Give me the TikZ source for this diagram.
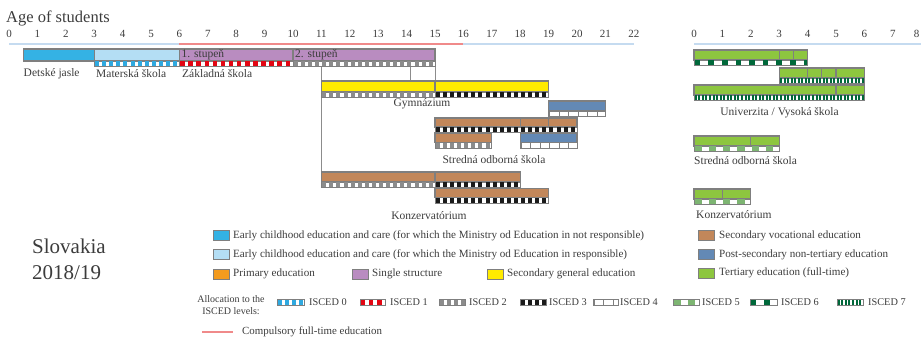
\documentclass[tikz,border=0pt]{standalone}
\usepackage{fontspec}
\setmainfont{Liberation Serif}
\definecolor{txt}{HTML}{3C3C3C}
\definecolor{bd}{HTML}{7F7F7F}
\definecolor{ln}{HTML}{8C8C8C}
\definecolor{axblue}{HTML}{C5DBF0}
\definecolor{comp}{HTML}{F08A8A}
\definecolor{ecnot}{HTML}{34B2E4}
\definecolor{ecres}{HTML}{B4DEF4}
\definecolor{prim}{HTML}{F39B1E}
\definecolor{single}{HTML}{B98CC0}
\definecolor{secgen}{HTML}{FFEB00}
\definecolor{secvoc}{HTML}{C2875A}
\definecolor{postsec}{HTML}{6389B5}
\definecolor{tert}{HTML}{8DC63F}
\definecolor{isA}{HTML}{2FA9E0}
\definecolor{isB}{HTML}{E30613}
\definecolor{isC}{HTML}{8C8C8C}
\definecolor{isD}{HTML}{1A1A1A}
\definecolor{isF}{HTML}{7DB572}
\definecolor{isG}{HTML}{00683A}
% bar: x1 x2 ytop ybottom colour
\newcommand\ebar[5]{\filldraw[fill=#5,draw=bd,line width=1.2] (#1,#3) rectangle (#2,#4);}
% strip: x1 x2 ytop colour period block height
\newcommand\istrip[7]{%
  \begin{scope}
    \clip (#1,#3) rectangle (#2,#3+#7);
    \pgfmathtruncatemacro\nblk{(#2-#1)/#5+1}
    \foreach \k in {0,...,\nblk}{
      \fill[#4] ({#1+\k*#5+0.8},#3) rectangle ++(#6,#7);
    }
  \end{scope}
  \draw[bd,line width=1] (#1,#3) rectangle (#2,#3+#7);
}
\newcommand\isZ[3]{\istrip{#1}{#2}{#3}{isA}{7.1}{4}{6}}
\newcommand\isI[3]{\istrip{#1}{#2}{#3}{isB}{8.1}{4.5}{6}}
\newcommand\isII[3]{\istrip{#1}{#2}{#3}{isC}{7.1}{4}{6}}
\newcommand\isIII[3]{\istrip{#1}{#2}{#3}{isD}{7.1}{4}{6}}
\newcommand\isIV[3]{\istrip{#1}{#2}{#3}{bd}{9.47}{1}{6}}
\newcommand\isV[3]{\istrip{#1}{#2}{#3}{isF}{14.2}{7.1}{6}}
\newcommand\isVI[3]{\istrip{#1}{#2}{#3}{isG}{13.6}{5.5}{6}}
\newcommand\isVII[3]{\istrip{#1}{#2}{#3}{isG}{3.55}{2}{6}}
\begin{document}
\begin{tikzpicture}[x=1pt,y=-1pt,
  every node/.style={text=txt,inner sep=0pt},
  tick/.style={font=\fontsize{11}{12}\selectfont},
  lbl/.style={font=\fontsize{11.5}{13}\selectfont},
  leg/.style={font=\fontsize{11.1}{12}\selectfont,anchor=west},
  sml/.style={font=\fontsize{10.3}{11}\selectfont,anchor=west},
  sq/.style={draw=bd,line width=1}]
\useasboundingbox (0,0) rectangle (921,339);
% title
\node[anchor=west,font=\fontsize{16.5}{18}\selectfont] (title) at (6,18) {Age of students};
% left axis
\foreach \a in {0,...,22} \node[tick] (tl\a) at ({9+28.4*\a},34) {\a};
\draw[axblue,line width=2.6] (9,44) -- (633.8,44);
\draw[comp,line width=2.6] (179.4,44) -- (463.4,44);
% right axis
\foreach \a in {0,...,7} \node[tick] (tr\a) at ({694+28.4*\a},34) {\a};
\node[tick] (tr8) at (916.5,34) {8};
\draw[axblue,line width=2.6] (694,44) -- (921,44);
% connectors
\draw[ln,line width=0.9] (321.4,67) -- (321.4,172);
\draw[ln,line width=0.9] (410,67) -- (410,81);
\draw[ln,line width=0.9] (435,67) -- (435,81);
% row 1
\ebar{23.2}{94.2}{49}{61}{ecnot}
\ebar{94.2}{179.4}{49}{61}{ecres}
\ebar{179.4}{293}{49}{61}{single}
\ebar{293}{435}{49}{61}{single}
\isZ{94.2}{179.4}{61}
\isI{179.4}{293}{61}
\isII{293}{435}{61}
\node[anchor=west,font=\fontsize{11.5}{13}\selectfont] (st1) at (181.5,54.5) {1. stupeň};
\node[anchor=west,font=\fontsize{11.5}{13}\selectfont] (st2) at (295,54.5) {2. stupeň};
\node[lbl,anchor=west] (dj) at (23.5,73.5) {Detské jasle};
\node[lbl,anchor=west] (ms) at (96,73.5) {Materská škola};
\node[lbl,anchor=west] (zs) at (182,73.5) {Základná škola};
% Gymnazium
\ebar{321.4}{435}{81}{92}{secgen}
\ebar{435}{548.6}{81}{92}{secgen}
\isII{321.4}{435}{92}
\isIII{435}{548.6}{92}
\node[lbl] (gym) at (422,104) {Gymnázium};
% post-secondary
\ebar{548.6}{605.4}{101}{111}{postsec}
\isIV{548.6}{605.4}{111}
% vocational
\ebar{435}{520.2}{118}{127}{secvoc}
\ebar{520.2}{548.6}{118}{127}{secvoc}
\ebar{548.6}{577}{118}{127}{secvoc}
\isIII{435}{577}{127}
\ebar{435}{491.8}{133}{142.5}{secvoc}
\isII{435}{491.8}{142.5}
\ebar{520.2}{577}{133}{142.5}{postsec}
\isIV{520.2}{577}{142.5}
\node[lbl] (sos) at (494,160) {Stredná odborná škola};
% Konzervatorium
\ebar{321.4}{435}{172}{182}{secvoc}
\ebar{435}{520.2}{172}{182}{secvoc}
\isII{321.4}{435}{182}
\isIII{435}{520.2}{182}
\ebar{435}{548.6}{188.5}{197.5}{secvoc}
\isIII{435}{548.6}{197.5}
\node[lbl] (konz) at (429,216) {Konzervatórium};
% right section
\ebar{694}{779.2}{50}{60}{tert}
\ebar{779.2}{793.4}{50}{60}{tert}
\ebar{793.4}{807.6}{50}{60}{tert}
\isVI{694}{807.6}{60}
\ebar{779.2}{807.6}{68}{78}{tert}
\ebar{807.6}{821.8}{68}{78}{tert}
\ebar{821.8}{836}{68}{78}{tert}
\ebar{836}{864.4}{68}{78}{tert}
\isVII{779.2}{864.4}{78}
\ebar{694}{836}{85}{95}{tert}
\ebar{836}{864.4}{85}{95}{tert}
\isVII{694}{864.4}{95}
\node[lbl] (univ) at (779.5,113) {Univerzita / Vysoká škola};
\ebar{694}{750.8}{136}{146}{tert}
\ebar{750.8}{779.2}{136}{146}{tert}
\isV{694}{779.2}{146}
\node[lbl,anchor=west] (sos2) at (694,160.5) {Stredná odborná škola};
\ebar{694}{722.4}{189}{199}{tert}
\ebar{722.4}{750.8}{189}{199}{tert}
\isV{694}{750.8}{199}
\node[lbl,anchor=west] (konz2) at (696,215) {Konzervatórium};
% country
\node[anchor=west,font=\fontsize{21}{24}\selectfont] (country) at (32,246) {Slovakia};
\node[anchor=west,font=\fontsize{21}{24}\selectfont] (year) at (32,273) {2018/19};
% legend colours
\filldraw[fill=ecnot,sq] (213,230.5) rectangle (229,240.5);
\node[leg] (l1) at (233,235.5) {Early childhood education and care (for which the Ministry od Education in not responsible)};
\filldraw[fill=ecres,sq] (213,249.5) rectangle (229,259.5);
\node[leg] (l2) at (233,254.5) {Early childhood education and care (for which the Ministry od Education in responsible)};
\filldraw[fill=prim,sq] (213,269) rectangle (229,279);
\node[leg] (l3) at (233,274) {Primary education};
\filldraw[fill=single,sq] (352,269) rectangle (368,279);
\node[leg] (l4) at (372,274) {Single structure};
\filldraw[fill=secgen,sq] (487,269) rectangle (503,279);
\node[leg] (l5) at (507,274) {Secondary general education};
\filldraw[fill=secvoc,sq] (698,230.5) rectangle (714,240.5);
\node[leg] (l6) at (719,235.5) {Secondary vocational education};
\filldraw[fill=postsec,sq] (698,249.5) rectangle (714,259.5);
\node[leg] (l7) at (719,254.5) {Post-secondary non-tertiary education};
\filldraw[fill=tert,sq] (698,268) rectangle (714,278);
\node[leg] (l8) at (719,273) {Tertiary education (full-time)};
% ISCED legend
\node[font=\fontsize{10}{12}\selectfont,align=center] (alloc) at (231,305) {Allocation to the\\ISCED levels:};
\isZ{277}{304}{299}   \node[sml] (i0) at (309,302) {ISCED 0};
\isI{360}{385}{299}   \node[sml] (i1) at (390,302) {ISCED 1};
\isII{439}{465}{299}  \node[sml] (i2) at (469,302) {ISCED 2};
\isIII{520}{546}{299} \node[sml] (i3) at (549,302) {ISCED 3};
\isIV{593}{618}{299}  \node[sml] (i4) at (620,302) {ISCED 4};
\isV{673}{699}{299}   \node[sml] (i5) at (702,302) {ISCED 5};
\isVI{750}{777}{299}  \node[sml] (i6) at (781,302) {ISCED 6};
\isVII{837}{863}{299} \node[sml] (i7) at (868,302) {ISCED 7};
% compulsory
\coordinate (c1) at (202,332);
\coordinate (c2) at (233,332);
\draw[comp,line width=2.2] (c1) -- (c2);
\node[sml,font=\fontsize{10.9}{12}\selectfont] (comp) at (242,332) {Compulsory full-time education};
\end{tikzpicture}
\end{document}
